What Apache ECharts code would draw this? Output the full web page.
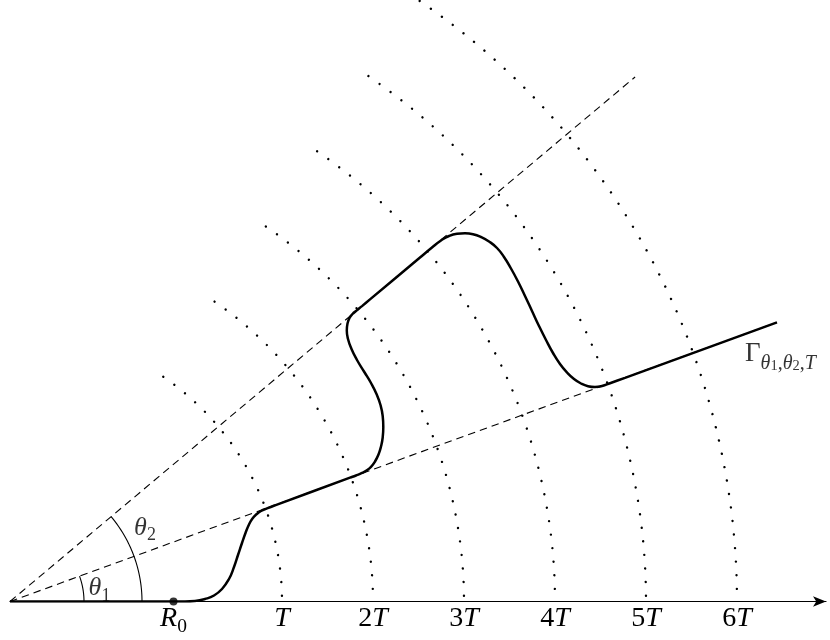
<!DOCTYPE html>
<html><head><meta charset="utf-8">
<script src="https://cdn.jsdelivr.net/npm/echarts@6/dist/echarts.min.js"></script>
<style>html,body{margin:0;padding:0;background:#fff}#c{width:830px;height:640px}</style>
</head><body><div id="c"></div>
<script>
// ---- geometry / data (axis units = pixels from the origin) ----
const theta1 = 20;              // degrees
const theta2 = 40;              // degrees
const R0 = 163.5;
const arcRadii = [272, 363, 454, 545, 636, 727];
const arcLabels = ['T', '2T', '3T', '4T', '5T', '6T'];
const arcTopAngle = 55.7;       // degrees
const rayLength = 816;
const angleArcRadii = [74, 132];
const curveX = [0, 160, 175, 185, 195, 204, 212, 219, 224, 228, 232, 235.5, 239, 242.5, 246.5, 251, 257, 265,
  340, 346, 351.5, 356.5, 361, 365, 368.5, 371, 372.7, 373.3, 372.7, 370.5, 366.5, 361, 354, 347, 341.5, 338, 336.8, 337.5, 339.5, 342.5, 346.5, 352, 360,
  410, 422, 431, 439, 447, 455, 463, 471, 479, 487, 494, 501, 508, 515, 522, 529, 536, 543, 550, 557, 564, 571, 578, 585, 592, 600, 615, 767];
const curveY = [0, 0, 0, 0.5, 2.5, 6, 12.5, 22.5, 34.5, 46.5, 58.5, 68.5, 77, 83, 87.2, 90.5, 93.1, 96.2,
  123.8, 126, 128.3, 131, 134.7, 140, 147, 155, 164, 174.5, 185.5, 196.5, 207.5, 218.5, 230, 241.5, 252.5, 262.5, 271, 278, 283.5, 287.5, 290.9, 295.4, 302.1,
  344, 354, 361, 365.5, 367.7, 368.2, 367.3, 364.5, 360, 353.5, 344.5, 333, 320, 305.5, 290.5, 275.5, 261.5, 248.5, 237.5, 229, 222.5, 218, 215.3, 214.5, 215.5, 218.3, 223.7, 279.2];

// ---- helpers ----
const rad = d => d * Math.PI / 180;
function arcPoints(r, fromDeg, toDeg) {
  const pts = [];
  const n = Math.max(8, Math.ceil(Math.abs(toDeg - fromDeg) / 0.5));
  for (let k = 0; k <= n; k++) {
    const a = rad(fromDeg + (toDeg - fromDeg) * k / n);
    pts.push([r * Math.cos(a), r * Math.sin(a)]);
  }
  return pts;
}
const FONT = 'Liberation Serif';
const rich = {
  i: {fontFamily: FONT, fontStyle: 'italic', fontSize: 26, lineHeight: 28, color: '#000', verticalAlign: 'top'},
  n: {fontFamily: FONT, fontSize: 26, lineHeight: 28, color: '#000', verticalAlign: 'top'},
  s: {fontFamily: FONT, fontSize: 18, lineHeight: 18, color: '#000', padding: [11.4, 0, 0, 0], verticalAlign: 'top'},
  ai: {fontFamily: FONT, fontStyle: 'italic', fontSize: 28, lineHeight: 30, color: '#000', verticalAlign: 'top'},
  an: {fontFamily: FONT, fontSize: 28, lineHeight: 30, color: '#000', verticalAlign: 'top'},
  as: {fontFamily: FONT, fontSize: 19.5, lineHeight: 19.5, color: '#000', padding: [12, 0, 0, 0], verticalAlign: 'top'},
  g: {fontFamily: FONT, fontSize: 27, lineHeight: 29, color: '#000', verticalAlign: 'top'},
  gi: {fontFamily: FONT, fontStyle: 'italic', fontSize: 20, lineHeight: 20, color: '#000', padding: [13.5, 0, 0, 0], verticalAlign: 'top'},
  gs: {fontFamily: FONT, fontSize: 20, lineHeight: 20, color: '#000', padding: [13.5, 0, 0, 0], verticalAlign: 'top'},
  gss: {fontFamily: FONT, fontSize: 14.5, lineHeight: 14.5, color: '#000', padding: [19, 0, 0, 0], verticalAlign: 'top'}
};
function texLabel(t) {
  if (t === 'R0') return '{ai|R}{as|0}';
  const m = t.match(/^(\d*)T$/);
  return (m[1] ? '{an|' + m[1] + '}' : '') + '{ai|T}';
}
const tickValues = [R0].concat(arcRadii);
const tickTexts = ['R0'].concat(arcLabels);

const series = [];
// dotted arcs
arcRadii.forEach(r => {
  series.push({
    type: 'line', data: arcPoints(r, arcTopAngle, 0), symbol: 'none', silent: true,
    lineStyle: {color: '#000', width: 2.4, type: [0.01, 13.6], cap: 'round'}
  });
});
// dashed rays
[theta1, theta2].forEach(t => {
  series.push({
    type: 'line', data: [[0, 0], [rayLength * Math.cos(rad(t)), rayLength * Math.sin(rad(t))]],
    symbol: 'none', silent: true,
    lineStyle: {color: '#000', width: 1.1, type: [7.5, 5]}
  });
});
// angle arcs
[theta1, theta2].forEach((t, i) => {
  series.push({
    type: 'line', data: arcPoints(angleArcRadii[i], 0, t), symbol: 'none', silent: true,
    lineStyle: {color: '#000', width: 1.1}
  });
});
// curve Gamma
series.push({
  type: 'line', data: curveX.map((x, i) => [x, curveY[i]]), symbol: 'none', smooth: 0.5, silent: true,
  lineStyle: {color: '#000', width: 2.5}
});
// R0 dot
series.push({
  type: 'scatter', data: [[R0, 0]], symbolSize: 8, itemStyle: {color: '#000'}, silent: true
});
// annotations
series.push({
  type: 'scatter', symbolSize: 0, silent: true,
  data: [
    {value: [89.5, 12.1], label: {formatter: '{i|θ}{s|1}'}},
    {value: [135, 72.5], label: {formatter: '{i|θ}{s|2}'}},
    {value: [735, 247], label: {formatter: '{g|Γ}{gi|θ}{gss|1}{gs|,}{gi|θ}{gss|2}{gs|,}{gi|T}', position: 'right', distance: 0}}
  ],
  label: {show: true, position: 'inside', rich: rich, color: '#000'}
});

const chart = echarts.init(document.getElementById('c'), null, {renderer: 'canvas'});
chart.setOption({
  animation: false,
  backgroundColor: '#fff',
  grid: {left: 10, right: 4, top: 0, bottom: 38.5, containLabel: false},
  xAxis: {
    type: 'value', min: 0, max: 816,
    axisLine: {show: true, onZero: false, symbol: ['none', 'arrow'], symbolSize: [8, 13], lineStyle: {color: '#000', width: 1.2}},
    axisTick: {show: false}, splitLine: {show: false},
    axisLabel: {
      show: true, margin: 3, customValues: tickValues, rich: rich,
      formatter: v => { const k = tickValues.indexOf(v); return k >= 0 ? texLabel(tickTexts[k]) : ''; }
    }
  },
  yAxis: {type: 'value', min: 0, max: 601.5, show: false},
  series: series
});
</script></body></html>
